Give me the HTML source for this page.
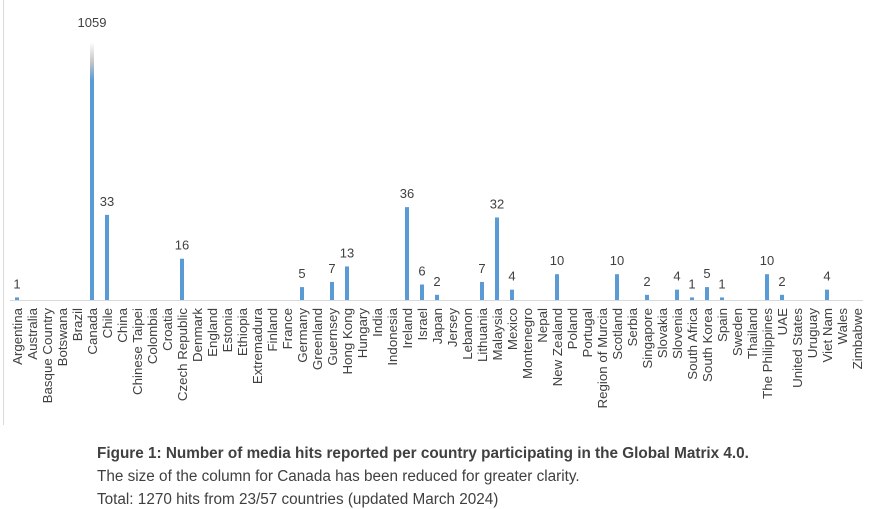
<!DOCTYPE html>
<html><head><meta charset="utf-8"><style>
html,body{margin:0;padding:0;background:#fff;width:873px;height:500px;overflow:hidden}
svg text{font-family:"Liberation Sans",sans-serif;fill:#404040}
.cap{position:absolute;left:97px;font-family:"Liberation Sans",sans-serif;font-size:15.3px;color:#404040;white-space:nowrap}
</style></head><body>
<div style="position:absolute;left:3px;top:0;width:1px;height:425px;background:#d9d9d9"></div>
<svg id="s" width="873" height="430" style="position:absolute;left:0;top:0">
<defs><linearGradient id="g" x1="0" y1="0" x2="0" y2="1">
<stop offset="0" stop-color="#ffffff"/><stop offset="0.5" stop-color="#c8c8c8"/><stop offset="1" stop-color="#5b9bd5"/></linearGradient></defs>
<line x1="10" y1="300.5" x2="863" y2="300.5" stroke="#d9d9d9"/>
</svg>
<div class="cap" style="top:445px;font-weight:bold">Figure 1: Number of media hits reported per country participating in the Global Matrix 4.0.</div>
<div class="cap" style="top:468px">The size of the column for Canada has been reduced for greater clarity.</div>
<div class="cap" style="top:491px">Total: 1270 hits from 23/57 countries (updated March 2024)</div>
<script>
var names=["Argentina","Australia","Basque Country","Botswana","Brazil","Canada","Chile","China","Chinese Taipei","Colombia","Croatia","Czech Republic","Denmark","England","Estonia","Ethiopia","Extremadura","Finland","France","Germany","Greenland","Guernsey","Hong Kong","Hungary","India","Indonesia","Ireland","Israel","Japan","Jersey","Lebanon","Lithuania","Malaysia","Mexico","Montenegro","Nepal","New Zealand","Poland","Portugal","Region of Murcia","Scotland","Serbia","Singapore","Slovakia","Slovenia","South Africa","South Korea","Spain","Sweden","Thailand","The Philippines","UAE","United States","Uruguay","Viet Nam","Wales","Zimbabwe"];
var v={"Argentina":1,"Chile":33,"Czech Republic":16,"Germany":5,"Guernsey":7,"Hong Kong":13,"Ireland":36,"Israel":6,"Japan":2,"Lithuania":7,"Malaysia":32,"Mexico":4,"New Zealand":10,"Scotland":10,"Singapore":2,"Slovenia":4,"South Africa":1,"South Korea":5,"Spain":1,"The Philippines":10,"UAE":2,"Viet Nam":4};
var s=document.getElementById('s'),h='';
names.forEach(function(n,i){
 var x=17+i*15.0;
 h+='<text transform="translate('+(x+5)+',308) rotate(-90)" text-anchor="end" font-size="13.3">'+n+'</text>';
 if(n=="Canada"){
  h+='<rect x="'+(x-2)+'" y="42" width="4" height="38" fill="url(#g)"/><rect x="'+(x-2)+'" y="80" width="4" height="220" fill="#5b9bd5"/>';
  h+='<text x="'+x+'" y="27" text-anchor="middle" font-size="13">1059</text>';
 } else if(v[n]){
  var ht=v[n]*2.58,t=300-ht;
  h+='<rect x="'+(x-2)+'" y="'+t+'" width="4" height="'+ht+'" fill="#5b9bd5"/>';
  h+='<text x="'+x+'" y="'+(t-9)+'" text-anchor="middle" font-size="13">'+v[n]+'</text>';
 }
});
s.insertAdjacentHTML('beforeend',h);
</script>
</body></html>
